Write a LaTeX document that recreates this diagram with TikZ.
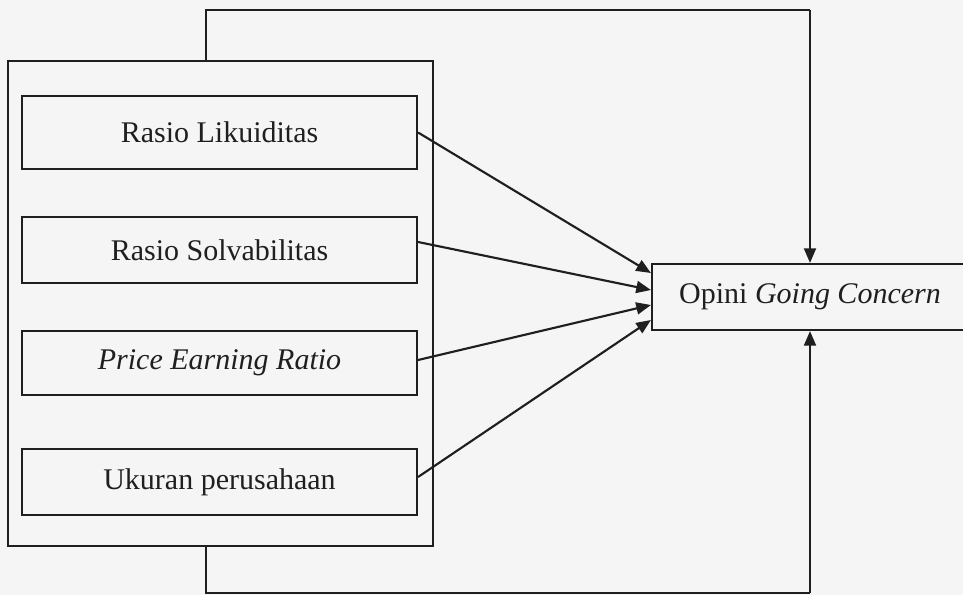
\documentclass[tikz,border=0pt]{standalone}
\usepackage{fontspec}
\setmainfont{Liberation Serif}
\usetikzlibrary{arrows.meta}
\definecolor{ink}{rgb}{0.12,0.12,0.12}
\definecolor{paper}{rgb}{0.96,0.96,0.96}
\begin{document}
\begin{tikzpicture}[x=0.75pt,y=-0.75pt,
  line width=1.6pt, draw=ink,
  varbox/.style={draw=ink, line width=1.6pt, rectangle, inner sep=0pt,
    minimum width=395*0.75pt, font=\fontsize{22.5}{27}\selectfont, text=ink},
  groupbox/.style={draw=ink, line width=1.6pt, rectangle, inner sep=0pt,
    minimum width=425*0.75pt, minimum height=485*0.75pt},
  targetbox/.style={draw=ink, line width=1.6pt, rectangle, inner sep=0pt,
    minimum width=316*0.75pt, minimum height=66*0.75pt,
    font=\fontsize{22.5}{27}\selectfont, text=ink},
  conn/.style={draw=ink, line width=1.6pt, -{Triangle[length=11pt,width=9pt]}},
  plain/.style={draw=ink, line width=1.6pt}
]
\fill[paper] (0,0) rectangle (963,595);
\useasboundingbox (0,0) rectangle (963,595);

\node[groupbox] (outer) at (220.5,303.5) {};
\node[varbox, minimum height=73*0.75pt] (b1) at (219.5,132.5) {Rasio Likuiditas};
\node[varbox, minimum height=66*0.75pt] (b2) at (219.5,250) {Rasio Solvabilitas};
\node[varbox, minimum height=64*0.75pt] (b3) at (219.5,363) {\itshape Price Earning Ratio};
\node[varbox, minimum height=66*0.75pt] (b4) at (219.5,482) {Ukuran perusahaan};

\node[targetbox] (op) at (810,297) {Opini \textit{Going Concern}};

\draw[conn] (b1.east) -- ([yshift=18pt]op.west);
\draw[conn] ([yshift=6pt]b2.east) -- ([yshift=5.25pt]op.west);
\draw[conn] ([yshift=2.25pt]b3.east) -- ([yshift=-6pt]op.west);
\draw[conn] ([yshift=3.75pt]b4.east) -- ([yshift=-17.25pt]op.west);

\coordinate (t1) at (206,10);
\coordinate (t2) at (810,10);
\coordinate (t3) at (206,593);
\coordinate (t4) at (810,593);

\draw[plain] (outer.north -| t1) -- (t1) -- (t2);
\draw[conn] (t2) -- (t2 |- op.north);
\draw[plain] (outer.south -| t3) -- (t3) -- (t4);
\draw[conn] (t4) -- (t4 |- op.south);
\end{tikzpicture}
\end{document}
